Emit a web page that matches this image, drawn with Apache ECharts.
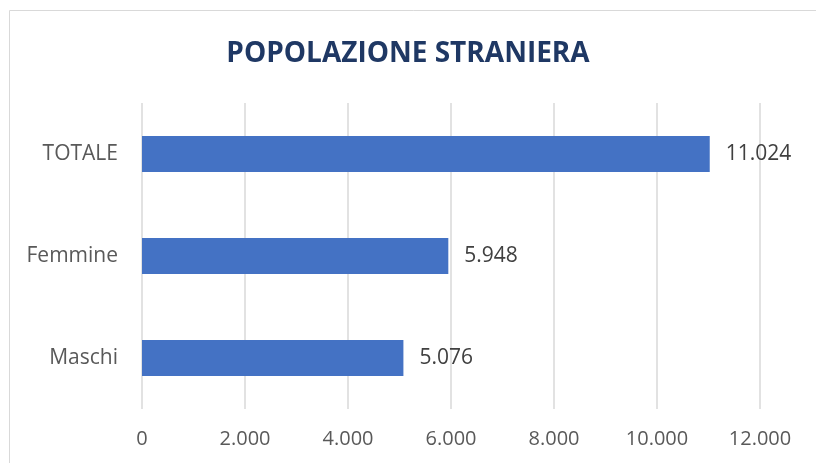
<!DOCTYPE html>
<html>
<head>
<meta charset="utf-8">
<script src="https://cdn.jsdelivr.net/npm/echarts@6/dist/echarts.min.js"></script>
<style>
  html, body { margin: 0; padding: 0; background: #fff; }
  #chart { width: 816px; height: 463px; }
</style>
</head>
<body>
<div id="chart"></div>
<script>
const categories = ['Maschi', 'Femmine', 'TOTALE']
const values = [5076, 5948, 11024]
const axisMax = 12000
const axisStep = 2000

function fmt(n) {
  return String(n).replace(/\B(?=(\d{3})+(?!\d))/g, '.')
}

const chart = echarts.init(document.getElementById('chart'))
chart.setOption({
  animation: false,
  textStyle: { fontFamily: '"Open Sans", sans-serif' },
  graphic: [{
    type: 'rect',
    shape: { x: 9.5, y: 10.5, width: 830, height: 470 },
    style: { fill: 'none', stroke: '#d9d9d9', lineWidth: 1 },
    silent: true
  }],
  title: {
    text: 'POPOLAZIONE STRANIERA',
    left: 'center',
    top: 35,
    textStyle: { color: '#1f3864', fontSize: 28, fontWeight: 'bold', fontFamily: '"Open Sans", sans-serif' }
  },
  grid: { left: 142, right: 56, top: 103, bottom: 54 },
  xAxis: {
    type: 'value',
    min: 0,
    max: axisMax,
    interval: axisStep,
    axisLine: { show: false },
    axisTick: { show: false },
    axisLabel: { color: '#595959', fontSize: 20, margin: 20, formatter: v => fmt(v) },
    splitLine: { lineStyle: { color: '#d9d9d9', width: 1.5 } }
  },
  yAxis: {
    type: 'category',
    data: categories,
    axisLine: { show: false },
    axisTick: { show: false },
    axisLabel: { color: '#595959', fontSize: 21, margin: 24 }
  },
  series: [{
    type: 'bar',
    data: values,
    barWidth: 36,
    itemStyle: { color: '#4472c4' },
    label: {
      show: true,
      position: 'right',
      distance: 16,
      color: '#404040',
      fontSize: 21,
      formatter: p => fmt(p.value)
    }
  }]
})
</script>
</body>
</html>
